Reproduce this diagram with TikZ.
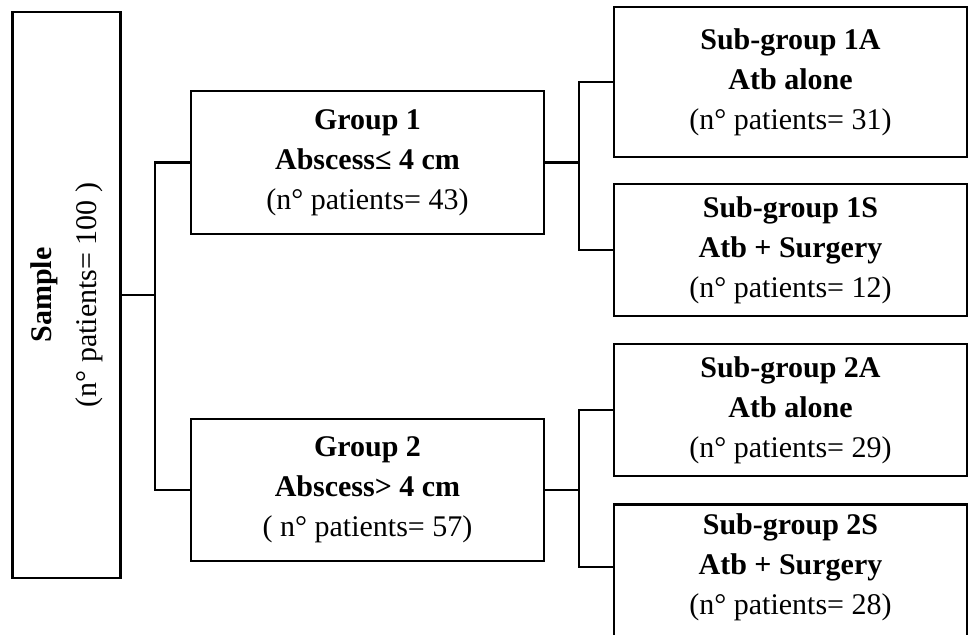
\documentclass[tikz,border=0pt]{standalone}
\usepackage{fontspec}
\setmainfont{Liberation Serif}
\begin{document}
\begin{tikzpicture}[x=0.5pt,y=-0.5pt,
  box/.style={draw, line width=1.3pt, align=center, inner sep=0pt, font=\fontsize{15}{20}\selectfont},
  subbox/.style={box, minimum width=176.5pt},
  plain/.style={align=center, inner sep=0pt, font=\fontsize{15}{20}\selectfont},
  conn/.style={line width=1.3pt}]
\useasboundingbox (0,0) rectangle (968,634);
\clip (0,0) rectangle (968,634);
% sample
\node[box, rotate=90, minimum width=283pt, minimum height=54pt] (sample) at (66.5,295)
  {\textbf{Sample}\\[2.5pt](n° patients= 100 )};
% groups
\node[box, minimum width=176.5pt, minimum height=71.5pt] (g1) at (367.5,162.5)
  {\textbf{Group 1}\\\textbf{Abscess≤ 4 cm}\\(n° patients= 43)};
\node[box, minimum width=176.5pt, minimum height=71pt] (g2) at (367.5,490)
  {\textbf{Group 2}\\\textbf{Abscess> 4 cm}\\( n° patients= 57)};
% sub-groups
\node[subbox, minimum height=75pt] (s1a) at (790.5,82)
  {\textbf{Sub-group 1A}\\\textbf{Atb alone}\\(n° patients= 31)};
\node[subbox, minimum height=66pt] (s1s) at (790.5,250)
  {\textbf{Sub-group 1S}\\\textbf{Atb + Surgery}\\(n° patients= 12)};
\node[subbox, minimum height=66pt] (s2a) at (790.5,410)
  {\textbf{Sub-group 2A}\\\textbf{Atb alone}\\(n° patients= 29)};
\node[subbox, anchor=north, minimum height=80pt] (s2sbox) at (790.5,503) {};
\node[plain] (s2s) at (790.5,567)
  {\textbf{Sub-group 2S}\\\textbf{Atb + Surgery}\\(n° patients= 28)};
% junctions
\coordinate (j0) at (155,295);
\coordinate (j1) at (579,162.5);
\coordinate (j2) at (579,490);
% connectors
\draw[conn] (sample.south) -- (j0);
\draw[conn] (g1.west) -| (j0) |- (g2.west);
\draw[conn] (g1.east) -- (j1);
\draw[conn] (s1a.west) -| (j1) |- (s1s.west);
\draw[conn] (g2.east) -- (j2);
\draw[conn] (s2a.west) -| (j2) |- (s2s.west -| s2sbox.west);
\end{tikzpicture}
\end{document}
